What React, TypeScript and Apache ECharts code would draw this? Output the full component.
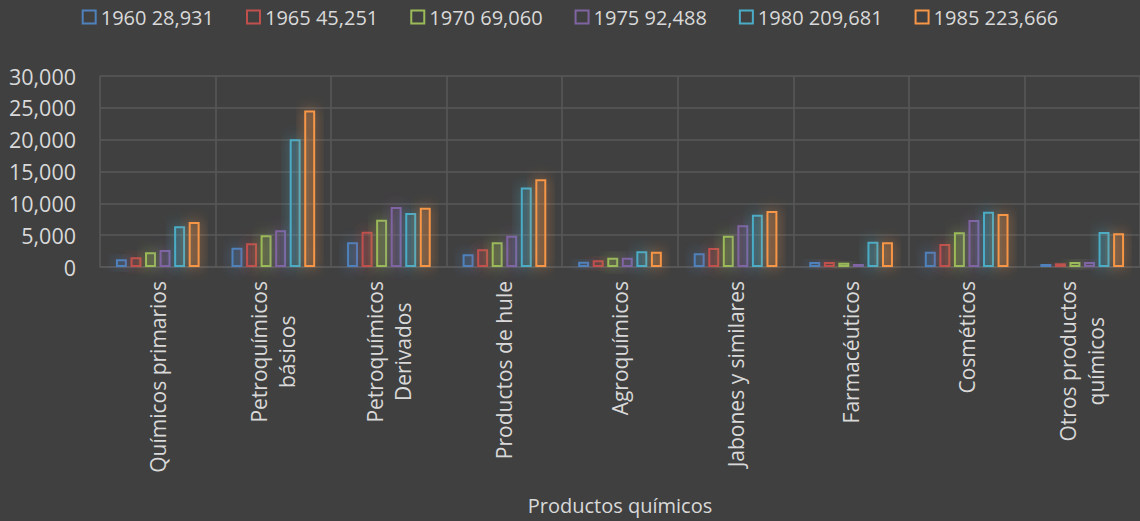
import React, { useEffect, useRef } from "react";
import * as echarts from "echarts";

const categories = [
  "Químicos primarios",
  "Petroquímicos\nbásicos",
  "Petroquímicos\nDerivados",
  "Productos de hule",
  "Agroquímicos",
  "Jabones y similares",
  "Farmacéuticos",
  "Cosméticos",
  "Otros productos\nquímicos",
];

const seriesNames = ["1960 28,931", "1965 45,251", "1970 69,060", "1975 92,488", "1980 209,681", "1985 223,666"];
const seriesColors = ["#4f81bd", "#c0504d", "#9bbb59", "#8064a2", "#4bacc6", "#f79646"];

const v1960 = [1200, 3030, 3880, 1990, 830, 2150, 790, 2410, 470];
const v1965 = [1520, 3720, 5550, 2780, 1050, 2980, 790, 3610, 580];
const v1970 = [2300, 4970, 7440, 3880, 1470, 4920, 680, 5450, 790];
const v1975 = [2670, 5760, 9430, 4920, 1470, 6540, 470, 7380, 790];
const v1980 = [6400, 20070, 8490, 12470, 2460, 8220, 3980, 8690, 5500];
const v1985 = [7070, 24570, 9320, 13780, 2410, 8800, 3880, 8330, 5290];

const seriesValues = [v1960, v1965, v1970, v1975, v1980, v1985];

const yTicks = { min: 0, max: 30000, interval: 5000 };

const FONT = "'Open Sans', sans-serif";
const TEXT = "#d9d9d9";
const GRID = "#595959";

function hexA(hex: string, a: number) {
  const n = parseInt(hex.slice(1), 16);
  return `rgba(${(n >> 16) & 255},${(n >> 8) & 255},${n & 255},${a})`;
}

export default function App() {
  const ref = useRef<HTMLDivElement>(null);
  useEffect(() => {
    if (!ref.current) return;
    const chart = echarts.init(ref.current, null, { renderer: "svg" });
    chart.setOption({
      animation: false,
      backgroundColor: "#404040",
      legend: {
        top: 2,
        left: "center",
        itemWidth: 13,
        itemHeight: 13,
        itemGap: 32,
        icon: "rect",
        textStyle: { color: TEXT, fontSize: 20, fontFamily: FONT },
        data: seriesNames.map((n, i) => ({
          name: n,
          itemStyle: { color: "transparent", borderColor: seriesColors[i], borderWidth: 2 },
        })),
      },
      grid: { left: 100, top: 76, width: 1044, height: 191, containLabel: false },
      xAxis: {
        type: "category",
        data: categories,
        name: "Productos químicos",
        nameLocation: "middle",
        nameGap: 228,
        nameTextStyle: { color: TEXT, fontSize: 20, fontFamily: FONT },
        axisLine: { show: true, lineStyle: { color: GRID, width: 1.5 } },
        axisTick: { show: false },
        splitLine: { show: true, interval: 0, lineStyle: { color: GRID, width: 1.5 } },
        axisLabel: {
          interval: 0,
          rotate: 90,
          margin: 14,
          color: TEXT,
          fontSize: 21,
          fontFamily: FONT,
          formatter: (v: string) => v.split("\n").map((l) => `{c|${l}}`).join("\n"),
          rich: { c: { align: "center", color: TEXT, fontSize: 21, fontFamily: FONT, lineHeight: 28 } },
        },
      },
      yAxis: {
        type: "value",
        min: yTicks.min,
        max: yTicks.max,
        interval: yTicks.interval,
        axisLine: { show: false },
        axisTick: { show: false },
        splitLine: { show: true, lineStyle: { color: GRID, width: 1.5 } },
        axisLabel: {
          color: TEXT,
          fontSize: 21.5,
          fontFamily: FONT,
          margin: 24,
          formatter: (v: number) => v.toLocaleString("en-US"),
        },
      },
      series: seriesNames.map((n, i) => ({
        name: n,
        type: "bar",
        data: seriesValues[i],
        barGap: "33%",
        barCategoryGap: "27.6%",
        itemStyle: {
          color: hexA(seriesColors[i], 0.14),
          borderColor: seriesColors[i],
          borderWidth: 2,
          shadowBlur: 14,
          shadowColor: hexA(seriesColors[i], 0.9),
        },
      })),
    });
    return () => chart.dispose();
  }, []);
  return (
    <div
      ref={ref}
      style={{ position: "absolute", left: 0, top: 0, width: 1140, height: 521, overflow: "hidden" }}
    />
  );
}
